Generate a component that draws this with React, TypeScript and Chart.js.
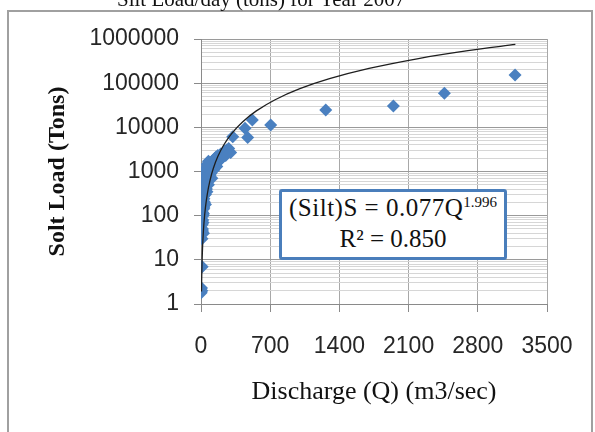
import React, { useEffect, useRef } from 'react';
import { Chart, registerables } from 'chart.js';

Chart.register(...registerables);

const CHART_TITLE = 'Silt Load/day (tons) for Year 2007';
const X_TITLE = 'Discharge (Q) (m3/sec)';
const Y_TITLE = 'Solt Load (Tons)';

const X_TICKS = [0, 700, 1400, 2100, 2800, 3500];
const Y_MAJOR_TICKS = [1, 10, 100, 1000, 10000, 100000, 1000000];

// Observed data: discharge Q (m3/sec) and silt load S (tons/day)
const DISCHARGE = [
  2, 5, 8, 12, 25,
  10, 12, 15, 14, 18, 20, 16, 22, 25, 20, 28, 30, 25, 35, 40, 32, 45, 50, 42, 55,
  60, 52, 65, 70, 62, 80, 90, 100, 85, 110, 130, 142, 150, 170, 200, 226, 240, 260, 280,
  4, 6, 8, 10, 12, 15, 18, 22, 28, 35, 40, 48, 60, 75,
  15, 20, 25, 30, 35, 45, 55, 70, 90, 120, 150, 180, 200, 250, 300,
  100, 130, 160, 75, 60, 45, 110,
  321, 445, 472, 519, 705, 1262, 1946, 2462, 3177,
];
const SILT_LOAD = [
  1.8, 2.3, 2.0, 7, 40,
  30, 40, 50, 65, 80, 100, 120, 140, 160, 180, 210, 240, 270, 300, 340, 380, 420, 480, 520, 580,
  650, 720, 800, 900, 1000, 1100, 1250, 1400, 1500, 1650, 1800, 1990, 2100, 2300, 2500, 2570, 2900, 3070, 3300,
  60, 100, 150, 200, 260, 330, 420, 560, 700, 850, 1000, 1200, 1450, 1700,
  45, 70, 110, 150, 200, 300, 400, 600, 800, 1200, 1500, 1700, 1900, 2300, 2700,
  900, 1100, 1300, 500, 350, 180, 700,
  6150, 9500, 5900, 14700, 11300, 24700, 30400, 59000, 153000,
];

// Power trendline shown on the chart: S = 0.077 Q^1.996, R² = 0.850
const TREND_COEF = 0.077;
const TREND_EXP = 1.996;
const TREND_COEF_LABEL = '0.077';
const TREND_EXP_LABEL = '1.996';
const R2_LABEL = '0.850';
const TREND_Q = [5, 7, 10, 14, 20, 30, 45, 65, 90, 125, 170, 230, 310, 420, 560, 750, 1000, 1300, 1700, 2200, 2700, 3180];

const isMajor = (v: number) => {
  const l = Math.log10(v);
  return Math.abs(l - Math.round(l)) < 1e-9;
};

export default function App() {
  const canvasRef = useRef<HTMLCanvasElement | null>(null);

  useEffect(() => {
    const canvas = canvasRef.current;
    if (!canvas) return;
    const chart = new Chart(canvas, {
      type: 'scatter',
      data: {
        datasets: [
          {
            type: 'line',
            data: TREND_Q.map((q) => ({ x: q, y: TREND_COEF * Math.pow(q, TREND_EXP) })),
            borderColor: '#1e1e1e',
            borderWidth: 1.3,
            pointRadius: 0,
            tension: 0.3,
            fill: false,
          } as any,
          {
            data: DISCHARGE.map((x, i) => ({ x, y: SILT_LOAD[i] })),
            pointStyle: 'rectRot',
            pointRadius: 6.5,
            backgroundColor: '#4A80C0',
            borderColor: '#4A80C0',
            borderWidth: 0,
          },
        ],
      },
      options: {
        responsive: false,
        animation: false,
        events: [],
        layout: { padding: { left: 0, right: 48, top: 39, bottom: 0 } },
        plugins: {
          legend: { display: false },
          tooltip: { enabled: false },
          title: { display: false },
        },
        scales: {
          x: {
            type: 'linear',
            min: 0,
            max: 3500,
            afterBuildTicks: (s: any) => {
              s.ticks = X_TICKS.map((v) => ({ value: v }));
            },
            afterFit: (s: any) => {
              s.height = 128;
            },
            grid: { color: '#a8a8a8', tickColor: '#8a8a8a', tickLength: 8, lineWidth: 1 },
            border: { color: '#8a8a8a' },
            ticks: {
              font: { family: '"Liberation Sans", Arial, sans-serif', size: 23 },
              color: '#262626',
              padding: 21,
              maxRotation: 0,
              autoSkip: false,
              callback: (v: any) => String(v),
            },
            title: {
              display: true,
              text: X_TITLE,
              font: { family: '"Liberation Serif", "Times New Roman", serif', size: 26 },
              color: '#111',
              padding: { top: 0, bottom: 24 },
            },
          },
          y: {
            type: 'logarithmic',
            min: 1,
            max: 1000000,
            afterBuildTicks: (s: any) => {
              const t: { value: number }[] = [];
              for (let i = 0; i < Y_MAJOR_TICKS.length - 1; i++) {
                for (let m = 1; m <= 9; m++) t.push({ value: Y_MAJOR_TICKS[i] * m });
              }
              t.push({ value: Y_MAJOR_TICKS[Y_MAJOR_TICKS.length - 1] });
              s.ticks = t;
            },
            afterFit: (s: any) => {
              s.width = 201;
            },
            grid: {
              color: (ctx: any) => (ctx.tick && isMajor(ctx.tick.value) ? '#9a9a9a' : '#d6d6d6'),
              tickColor: (ctx: any) => (ctx.tick && isMajor(ctx.tick.value) ? '#8a8a8a' : 'rgba(0,0,0,0)'),
              tickLength: 7,
              lineWidth: 1,
            },
            border: { color: '#8a8a8a' },
            ticks: {
              font: { family: '"Liberation Sans", Arial, sans-serif', size: 23 },
              color: '#262626',
              padding: 15,
              autoSkip: false,
              callback: (v: any) => (isMajor(Number(v)) ? String(v) : ''),
            },
            title: {
              display: true,
              text: Y_TITLE,
              font: { family: '"Liberation Serif", "Times New Roman", serif', size: 24, weight: 'bold' },
              color: '#111',
              padding: { top: 43, bottom: 0 },
            },
          },
        },
      },
    });
    return () => chart.destroy();
  }, []);

  return (
    <div
      style={{
        position: 'absolute',
        left: 0,
        top: 0,
        width: 595,
        height: 432,
        overflow: 'hidden',
        background: '#fff',
      }}
    >
      <div
        style={{
          position: 'absolute',
          left: 7,
          top: 10,
          width: 582,
          height: 460,
          borderLeft: '2px solid #a0a0a0',
          borderTop: '2px solid #a0a0a0',
          borderRight: '2px solid #a0a0a0',
        }}
      />
      <canvas
        ref={canvasRef}
        width={595}
        height={432}
        style={{ position: 'absolute', left: 0, top: 0, display: 'block' }}
      />
      <div
        style={{
          position: 'absolute',
          left: 117,
          top: -11,
          fontFamily: '"Liberation Serif", "Times New Roman", serif',
          fontSize: 21,
          lineHeight: '21px',
          whiteSpace: 'nowrap',
          color: '#111',
        }}
      >
        {CHART_TITLE}
      </div>
      <div
        style={{
          position: 'absolute',
          left: 279,
          top: 189,
          width: 222,
          height: 65,
          border: '3px solid #4A7EBB',
          borderRadius: 3,
          background: '#fff',
          boxSizing: 'content-box',
          fontFamily: '"Liberation Serif", "Times New Roman", serif',
          fontSize: 25,
          color: '#111',
          textAlign: 'center',
        }}
      >
        <div style={{ lineHeight: '28px', marginTop: 2, whiteSpace: 'nowrap', letterSpacing: 0.5 }}>
          (Silt)S = {TREND_COEF_LABEL}Q
          <span style={{ fontSize: 15, position: 'relative', top: -9, letterSpacing: 0 }}>{TREND_EXP_LABEL}</span>
        </div>
        <div style={{ lineHeight: '28px', whiteSpace: 'nowrap' }}>R² = {R2_LABEL}</div>
      </div>
    </div>
  );
}
